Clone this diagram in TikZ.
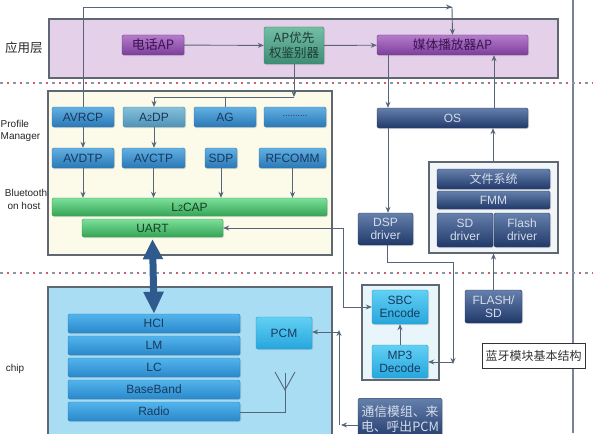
\documentclass[tikz,border=0pt]{standalone}
\usepackage{fontspec}
\setmainfont{Liberation Sans}
\newfontfamily\cjk{Noto Sans CJK SC}
\usetikzlibrary{arrows.meta,shadows,calc}
\definecolor{lineC}{HTML}{56657A}
\definecolor{purpBg}{HTML}{E4D0E8}
\definecolor{creamBg}{HTML}{FCFAE8}
\definecolor{chipBg}{HTML}{A8DDF3}
\definecolor{fsBg}{HTML}{F2F5F8}
\definecolor{codecBg}{HTML}{E8F5FB}
\definecolor{regBorder}{HTML}{5E6772}
\definecolor{dotRed}{HTML}{D65A6A}
\definecolor{dotGray}{HTML}{8A96A4}
\definecolor{pT}{HTML}{B47CCC}\definecolor{pB}{HTML}{7E3E9C}\definecolor{pD}{HTML}{6A3A80}\definecolor{pX}{HTML}{3A1450}
\definecolor{tT}{HTML}{74BEA6}\definecolor{tB}{HTML}{3E8C74}\definecolor{tD}{HTML}{3A7A66}\definecolor{tX}{HTML}{1E3C34}
\definecolor{bT}{HTML}{62B0E2}\definecolor{bB}{HTML}{2A78B6}\definecolor{bD}{HTML}{3A7AAA}\definecolor{bX}{HTML}{17385E}
\definecolor{lT}{HTML}{86C0DC}\definecolor{lB}{HTML}{4E92B6}\definecolor{lD}{HTML}{4A86A6}
\definecolor{gT}{HTML}{7CE09A}\definecolor{gB}{HTML}{34A456}\definecolor{gD}{HTML}{3A9A58}\definecolor{gX}{HTML}{173E24}
\definecolor{nT}{HTML}{6680AC}\definecolor{nB}{HTML}{20396A}\definecolor{nD}{HTML}{2A3E62}\definecolor{nX}{HTML}{D4DCEA}
\definecolor{cT}{HTML}{52B4EC}\definecolor{cB}{HTML}{2A88CA}\definecolor{cD}{HTML}{2E7EB6}\definecolor{cX}{HTML}{1A3A60}
\definecolor{yT}{HTML}{62D0F4}\definecolor{yB}{HTML}{26A6DC}\definecolor{yD}{HTML}{2A9AC8}
\definecolor{bigArr}{HTML}{2E5A8E}
\begin{document}
\begin{tikzpicture}[x=1pt,y=-1pt,
  base/.style={rounded corners=1.5pt, inner sep=0pt, align=center,
    font=\fontsize{12}{13}\selectfont,
    drop shadow={opacity=.25,shadow xshift=1pt,shadow yshift=-1.2pt}},
  purp/.style={base, top color=pT, bottom color=pB, draw=pD, text=pX},
  teal/.style={base, top color=tT, bottom color=tB, draw=tD, text=tX},
  blu/.style={base, top color=bT, bottom color=bB, draw=bD, text=bX},
  lblu/.style={base, top color=lT, bottom color=lB, draw=lD, text=bX},
  grn/.style={base, top color=gT, bottom color=gB, draw=gD, text=gX},
  navy/.style={base, top color=nT, bottom color=nB, draw=nD, text=nX},
  chipb/.style={base, top color=cT, bottom color=cB, draw=cD, text=cX},
  cyanb/.style={base, top color=yT, bottom color=yB, draw=yD, text=cX},
  arr/.style={draw=lineC, line width=0.9pt, -{Stealth[length=6pt,width=5pt]}},
  ln/.style={draw=lineC, line width=0.9pt},
  region/.style={draw=regBorder, line width=1.2pt},
  side/.style={font=\fontsize{10}{11}\selectfont, text=black!85, inner sep=0pt},
  sz/.style 2 args={minimum width=#1pt, minimum height=#2pt},
]
\fill[white] (0,0) rectangle (593,433);
\useasboundingbox (0,0) rectangle (593,433);

% right border line
\draw[draw=lineC!80, line width=1.2pt] (573,0) -- (573,433);

% regions
\draw[region, fill=purpBg] (49,19) rectangle (558,78);
\draw[region, fill=creamBg] (48,91) rectangle (332,255);
\draw[region, fill=chipBg] (48,287) rectangle (332,440);
\node[region, fill=fsBg, sz={129}{91}, inner sep=0pt] (fsbox) at (493.5,207.5) {};
\node[region, fill=codecBg, sz={77}{95}, inner sep=0pt] (codecbox) at (400.5,332.5) {};

% dotted separators
\foreach \yy in {83,273}{
  \draw[dotGray, line width=1.6pt, dash pattern=on 3pt off 10pt] (0,\yy) -- (593,\yy);
  \draw[dotRed, line width=1.6pt, dash pattern=on 2.5pt off 10.5pt, dash phase=-6.5pt] (0,\yy) -- (593,\yy);
}

% side labels
\node[side, font=\cjk\fontsize{12.5}{13}\selectfont] (lab1) at (24,48) {应用层};
\node[side, anchor=west] (lab2) at (0.5,124) {Profile};
\node[side, anchor=west] (lab3) at (0.5,137) {Manager};
\node[side] (lab4) at (26,193) {Bluetooth};
\node[side] (lab5) at (24,206) {on host};
\node[side] (lab6) at (15,369) {chip};

% application layer
\node[purp, sz={62}{20}, font=\cjk\fontsize{13}{14}\selectfont] (phone) at (153,45) {电话AP};
\node[teal, sz={60}{37}, font=\cjk\fontsize{12.5}{15}\selectfont] (apri) at (294,45.5) {AP优先\\权鉴别器};
\node[purp, sz={151}{20}, font=\cjk\fontsize{12.7}{14}\selectfont] (media) at (452.5,45) {媒体播放器AP};

% profile row
\node[blu, sz={62}{20}] (avrcp) at (83,117) {AVRCP};
\node[lblu, sz={62}{20}] (a2dp) at (154,117) {A{\fontsize{9}{9}\selectfont 2}DP};
\node[blu, sz={62}{20}] (ag) at (225,117) {AG};
\node[blu, sz={62}{20}] (dots) at (295,117) {\raisebox{2pt}{\fontsize{9}{9}\selectfont ..........}};
\node[blu, sz={62}{20}] (avdtp) at (83,158) {AVDTP};
\node[blu, sz={63}{20}] (avctp) at (153.5,158) {AVCTP};
\node[blu, sz={32}{20}] (sdp) at (221,158) {SDP};
\node[blu, sz={67}{20}] (rfcomm) at (292.5,158) {RFCOMM};
\node[grn, sz={275}{18}] (l2cap) at (189.5,207) {L{\fontsize{9}{9}\selectfont 2}CAP};
\node[grn, sz={141}{18}] (uart) at (152.5,228) {UART};

% right column
\node[navy, sz={151}{20}] (os) at (452.5,118) {OS};
\node[navy, sz={55}{32}, font=\fontsize{12}{13}\selectfont] (dsp) at (385.5,229) {DSP\\driver};
\node[navy, sz={113}{20}, font=\cjk\fontsize{12}{13}\selectfont] (fs) at (493.5,179) {文件系统};
\node[navy, sz={113}{18}] (fmm) at (493.5,200) {FMM};
\node[navy, sz={56}{34}, font=\fontsize{12}{13}\selectfont] (sddrv) at (465,230) {SD\\driver};
\node[navy, sz={56}{34}, font=\fontsize{12}{13}\selectfont] (fldrv) at (522,230) {Flash\\driver};
\node[navy, sz={57}{33}, font=\fontsize{12}{13}\selectfont] (flashsd) at (493.5,306.5) {FLASH/\\SD};
\node[cyanb, sz={56}{34}, font=\fontsize{12}{13}\selectfont] (sbc) at (400,307) {SBC\\Encode};
\node[cyanb, sz={56}{33}, font=\fontsize{12}{13}\selectfont] (mp3) at (400,361.5) {MP3\\Decode};
\node[navy, sz={84}{42}, font=\cjk\fontsize{12.8}{15}\selectfont, anchor=north] (tx) at (400,398) {通信模组、来\\电、呼出PCM};

% chip
\node[chipb, sz={172}{19}] (hci) at (154,323.5) {HCI};
\node[chipb, sz={172}{19}] (lm) at (154,345.5) {LM};
\node[chipb, sz={172}{19}] (lc) at (154,367.5) {LC};
\node[chipb, sz={172}{19}] (bb) at (154,389.5) {BaseBand};
\node[chipb, sz={172}{19}] (radio) at (154,411.5) {Radio};
\node[cyanb, sz={56}{32}] (pcm) at (284,333) {PCM};

% caption
\node[draw=black!80, fill=white, line width=0.8pt, sz={103}{25}, inner sep=0pt,
      font=\cjk\fontsize{12}{13}\selectfont, text=black!80] (cap) at (533.5,355.5) {蓝牙模块基本结构};

% connectors: application layer
\draw[arr] (phone) -- (apri);
\draw[arr] (apri) -- (media);
\coordinate (topL) at (83,7);
\coordinate (topR) at (452,7);
\draw[ln] (avrcp.north) -- (topL) -- (topR);
\draw[arr] ($(topL)!0.98!(topR)$) -- (topR);
\draw[arr] (topR) -- (media.north);
\coordinate (hj) at (294,97);
\draw[arr] (apri.south) -- (hj);
\draw[arr] (hj) -- (a2dp.north |- hj) -- (a2dp.north);
\draw[ln] (ag.north) -- (ag.north |- hj);

% profile -> lower
\draw[arr] (avrcp) -- (avdtp);
\draw[arr] (a2dp) -- (avctp.north -| a2dp.south);
\draw[arr] (avdtp.south) -- (avdtp.south |- l2cap.north);
\draw[arr] (avctp.south) -- (avctp.south |- l2cap.north);
\draw[arr] (sdp.south) -- (sdp.south |- l2cap.north);
\draw[arr] (rfcomm.south) -- (rfcomm.south |- l2cap.north);

% big arrow UART <-> HCI
\draw[bigArr, line width=7pt, {Triangle[length=20pt,width=19pt]}-{Triangle[length=22pt,width=19pt]}]
  ([yshift=-2pt]uart.south) -- (hci.north);

% right column connectors
\draw[arr] (388,0 |- media.south) -- (388,0 |- os.north);
\draw[arr] (494,0 |- os.north) -- (494,0 |- media.south);
\draw[arr] (388,0 |- os.south) -- (388,0 |- dsp.north);
\draw[arr] (493,0 |- fsbox.north) -- (493,0 |- os.south);
\draw[arr] (flashsd.north) -- (flashsd.north |- fsbox.south);
\draw[arr] (mp3) -- (sbc);

% UART <-> SBC
\coordinate (u1) at (343,228);
\coordinate (u2) at (343,307);
\draw[arr, {Stealth[length=6pt,width=5pt]}-{Stealth[length=6pt,width=5pt]}] (uart.east) -- (u1) -- (u2) -- (sbc.west);

% DSP -> MP3
\coordinate (d1) at (387,262);
\coordinate (d2) at (453,262);
\coordinate (d3) at (453,362);
\draw[arr] (dsp.south -| d1) -- (d1) -- (d2) -- ([yshift=-2pt]d3);
\draw[arr] (d3) -- (mp3.east |- d3);

% PCM <-> comm module
\coordinate (p1) at (339,332);
\coordinate (p2) at (339,425);
\draw[arr] (p1) -- (pcm.east |- p1);
\draw[arr] (p2) -- ([yshift=2pt]p1);
\draw[arr] (tx.west |- p2) -- ([xshift=2pt]p2);

% antenna
\coordinate (a1) at (275,372);
\coordinate (a2) at (295,372);
\coordinate (a3) at (285,390);
\coordinate (a4) at (285,373);
\coordinate (a5) at (285,412);
\draw[ln] (a1) -- (a3) -- (a2);
\draw[ln] (a4) -- (a5) -- (radio.east |- a5);
\end{tikzpicture}
\end{document}
